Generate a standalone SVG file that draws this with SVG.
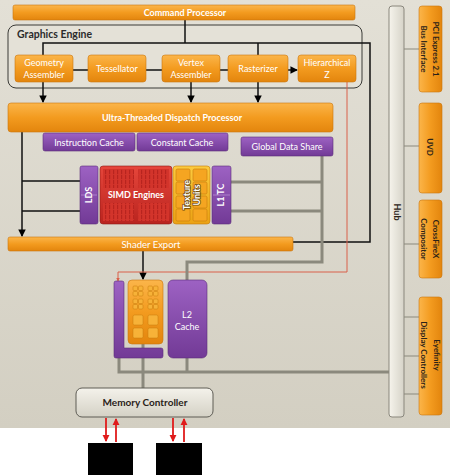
<svg xmlns="http://www.w3.org/2000/svg" width="450" height="475" viewBox="0 0 450 475">
<defs>
<linearGradient id="bgG" x1="0" y1="0" x2="0" y2="1"><stop offset="0" stop-color="#e3e0d6"/><stop offset="1" stop-color="#d3cfc2"/></linearGradient>
<linearGradient id="orG" x1="0" y1="0" x2="0" y2="1"><stop offset="0" stop-color="#fbb54a"/><stop offset="0.5" stop-color="#f39b1f"/><stop offset="1" stop-color="#e3850d"/></linearGradient>
<linearGradient id="orH" x1="0" y1="0" x2="1" y2="0"><stop offset="0" stop-color="#fbb54a"/><stop offset="0.5" stop-color="#f39b1f"/><stop offset="1" stop-color="#e3850d"/></linearGradient>
<linearGradient id="puG" x1="0" y1="0" x2="0" y2="1"><stop offset="0" stop-color="#9d62c3"/><stop offset="1" stop-color="#723a96"/></linearGradient>
<linearGradient id="reG" x1="0" y1="0" x2="0" y2="1"><stop offset="0" stop-color="#e6463b"/><stop offset="1" stop-color="#b9241f"/></linearGradient>
<linearGradient id="yeG" x1="0" y1="0" x2="0" y2="1"><stop offset="0" stop-color="#fcca3e"/><stop offset="1" stop-color="#eba214"/></linearGradient>
<linearGradient id="hubG" x1="0" y1="0" x2="1" y2="0"><stop offset="0" stop-color="#f6f4ec"/><stop offset="1" stop-color="#d6d3c8"/></linearGradient>
<linearGradient id="memG" x1="0" y1="0" x2="0" y2="1"><stop offset="0" stop-color="#f4f2eb"/><stop offset="1" stop-color="#d4d1c5"/></linearGradient>
<pattern id="simdP" width="4" height="5" patternUnits="userSpaceOnUse"><rect width="4" height="5" fill="#d3342b"/><rect x="1" y="0" width="1.2" height="4.2" fill="#b8241f"/></pattern>
<marker id="ab" viewBox="0 0 8 8" refX="7" refY="4" markerWidth="5" markerHeight="5" orient="auto"><path d="M0,0 L8,4 L0,8 z" fill="#000"/></marker>
<marker id="ar" viewBox="0 0 8 8" refX="7" refY="4" markerWidth="4" markerHeight="4" orient="auto"><path d="M0,0 L8,4 L0,8 z" fill="#e01b1b"/></marker>
<marker id="arr" viewBox="0 0 8 8" refX="7" refY="4" markerWidth="4" markerHeight="4" orient="auto"><path d="M0,0 L8,4 L0,8 z" fill="#d9604a"/></marker>
</defs>
<style>
text{font-family:Lato,"Liberation Sans",sans-serif;}
.or{fill:url(#orG);stroke:#c9760f;stroke-width:0.6;}
.orv{fill:url(#orH);stroke:#c9760f;stroke-width:0.6;}
.pu{fill:url(#puG);stroke:#5c2d7a;stroke-width:0.6;}
.wt{fill:#fff;font-size:9px;text-anchor:middle;}
.wb{fill:#fff;font-size:9px;font-weight:bold;text-anchor:middle;}
.dk{fill:#2a2218;font-size:8.5px;font-weight:bold;text-anchor:middle;}
.blk{stroke:#111;stroke-width:1.5;fill:none;}
.gry{stroke:#8b897d;stroke-width:3;fill:none;}
.thin{stroke:#8b897d;stroke-width:1;fill:none;}
.cell{fill:#f5a521;stroke:#c67a0c;stroke-width:0.6;}
</style>

<rect x="0" y="0" width="450" height="428" fill="url(#bgG)"/>

<g id="graphics-engine">
<rect x="8" y="25" width="354" height="63" rx="8" fill="#e4e1d7" stroke="#3a3a36" stroke-width="1"/>
<text x="17" y="38" style="font-size:10.5px;font-weight:bold;fill:#2b2b2b;">Graphics Engine</text>
</g>

<g id="connectors">
<polyline class="blk" points="185,20 185,43"/>
<polyline class="blk" points="43,55 43,43 370,43 370,242 293,242"/>
<line class="blk" x1="258" y1="43" x2="258" y2="55"/>
<line class="blk" x1="73" y1="70" x2="88" y2="70"/>
<line class="blk" x1="146" y1="70" x2="162" y2="70"/>
<line class="blk" x1="220" y1="70" x2="228" y2="70"/>
<line class="blk" x1="288" y1="70" x2="297" y2="70" marker-end="url(#ab)"/>
<line class="blk" x1="43" y1="82" x2="43" y2="102" marker-end="url(#ab)"/>
<line class="blk" x1="191" y1="82" x2="191" y2="102" marker-end="url(#ab)"/>
<line class="blk" x1="258" y1="82" x2="258" y2="102" marker-end="url(#ab)"/>
<line class="blk" x1="22" y1="132" x2="22" y2="236" marker-end="url(#ab)"/>
<line class="blk" x1="22" y1="181" x2="80" y2="181"/>
<line class="blk" x1="22" y1="211" x2="80" y2="211"/>
<line class="blk" x1="143" y1="251" x2="143" y2="279" marker-end="url(#ab)"/>
<polyline points="347,82 347,272 118,272 118,281" fill="none" stroke="#d9604a" stroke-width="1" marker-end="url(#arr)"/>
<polyline class="gry" points="322,156 322,262 187,262 187,281"/>
<line class="gry" x1="231" y1="182" x2="322" y2="182"/>
<line class="gry" x1="231" y1="211" x2="322" y2="211"/>
<polyline class="gry" points="119,358 119,372 389,372"/>
<line class="gry" x1="143" y1="344" x2="143" y2="388"/>
<line class="gry" x1="187" y1="358" x2="187" y2="372"/>
<line class="thin" x1="404" y1="49" x2="419" y2="49"/>
<line class="thin" x1="404" y1="146" x2="419" y2="146"/>
<line class="thin" x1="404" y1="244" x2="419" y2="244"/>
<line class="thin" x1="404" y1="317" x2="419" y2="317"/>
<line class="thin" x1="404" y1="356" x2="419" y2="356"/>
<line class="thin" x1="404" y1="394" x2="419" y2="394"/>
<line x1="106" y1="418" x2="106" y2="441" stroke="#e01b1b" stroke-width="1.8" marker-end="url(#ar)"/>
<line x1="116" y1="442" x2="116" y2="419" stroke="#e01b1b" stroke-width="1.8" marker-end="url(#ar)"/>
<line x1="173" y1="418" x2="173" y2="441" stroke="#e01b1b" stroke-width="1.8" marker-end="url(#ar)"/>
<line x1="184" y1="442" x2="184" y2="419" stroke="#e01b1b" stroke-width="1.8" marker-end="url(#ar)"/>
</g>

<g id="command-processor">
<rect class="or" x="13" y="5" width="342" height="15" rx="2"/>
<text class="wb" x="185" y="16">Command Processor</text>
</g>

<g id="geometry-assembler">
<rect class="or" x="15" y="55" width="58" height="27" rx="3"/>
<text class="wt" x="44" y="66">Geometry</text>
<text class="wt" x="44" y="78">Assembler</text>
</g>
<g id="tessellator">
<rect class="or" x="88" y="55" width="58" height="27" rx="3"/>
<text class="wt" x="117" y="72">Tessellator</text>
</g>
<g id="vertex-assembler">
<rect class="or" x="162" y="55" width="58" height="27" rx="3"/>
<text class="wt" x="191" y="66">Vertex</text>
<text class="wt" x="191" y="78">Assembler</text>
</g>
<g id="rasterizer">
<rect class="or" x="228" y="55" width="60" height="27" rx="3"/>
<text class="wt" x="258" y="72">Rasterizer</text>
</g>
<g id="hierarchical-z">
<rect class="or" x="298" y="55" width="58" height="27" rx="3"/>
<text class="wt" x="327" y="66">Hierarchical</text>
<text class="wt" x="327" y="78">Z</text>
</g>

<g id="dispatch-processor">
<rect class="or" x="8" y="103" width="325" height="29" rx="3"/>
<text class="wb" x="172" y="121">Ultra-Threaded Dispatch Processor</text>
</g>

<g id="instruction-cache">
<rect class="pu" x="43" y="133" width="92" height="18" rx="2"/>
<text class="wt" x="89" y="145.5">Instruction Cache</text>
</g>
<g id="constant-cache">
<rect class="pu" x="137" y="133" width="91" height="18" rx="2"/>
<text class="wt" x="182" y="145.5">Constant Cache</text>
</g>
<g id="global-data-share">
<rect class="pu" x="241" y="137" width="92" height="19" rx="2"/>
<text class="wt" x="287" y="150">Global Data Share</text>
</g>

<g id="lds">
<rect class="pu" x="80" y="166" width="18" height="58" rx="2"/>
<line x1="81" y1="195" x2="97" y2="195" stroke="#c9a3e0" stroke-width="0.6"/>
<text class="wb" transform="translate(92,195) rotate(-90)">LDS</text>
</g>
<g id="simd-engines">
<rect x="100" y="166" width="72" height="58" rx="3" fill="url(#reG)" stroke="#8f1a16" stroke-width="0.6"/>
<rect x="103" y="169" width="31" height="19" fill="url(#simdP)"/>
<rect x="138" y="169" width="31" height="19" fill="url(#simdP)"/>
<rect x="103" y="203" width="31" height="18" fill="url(#simdP)"/>
<rect x="138" y="203" width="31" height="18" fill="url(#simdP)"/>
<text class="wb" x="136" y="198">SIMD Engines</text>
</g>
<g id="texture-units">
<rect x="173" y="166" width="37" height="58" rx="3" fill="url(#yeG)" stroke="#c27a0a" stroke-width="0.6"/>
<rect class="cell" x="176" y="169" width="14" height="12" rx="1.5"/>
<rect class="cell" x="193" y="169" width="14" height="12" rx="1.5"/>
<rect class="cell" x="176" y="182" width="14" height="12" rx="1.5"/>
<rect class="cell" x="193" y="182" width="14" height="12" rx="1.5"/>
<rect class="cell" x="176" y="196" width="14" height="12" rx="1.5"/>
<rect class="cell" x="193" y="196" width="14" height="12" rx="1.5"/>
<rect class="cell" x="176" y="209" width="14" height="12" rx="1.5"/>
<rect class="cell" x="193" y="209" width="14" height="12" rx="1.5"/>
<text class="wb" transform="translate(190,195) rotate(-90)" style="stroke:#6a4a10;stroke-width:1.5;paint-order:stroke;">Texture</text>
<text class="wb" transform="translate(200,195) rotate(-90)" style="stroke:#6a4a10;stroke-width:1.5;paint-order:stroke;">Units</text>
</g>
<g id="l1-tc">
<rect class="pu" x="212" y="166" width="19" height="58" rx="2"/>
<line x1="213" y1="195" x2="230" y2="195" stroke="#c9a3e0" stroke-width="0.6"/>
<text class="wb" transform="translate(224,195) rotate(-90)">L1 TC</text>
</g>

<g id="shader-export">
<rect class="or" x="8" y="237" width="285" height="14" rx="2"/>
<text class="wt" x="151" y="247.5" style="font-size:9.5px;">Shader Export</text>
</g>

<g id="render-backends">
<path class="pu" d="M116,281 h6 a2,2 0 0 1 2,2 v65 h37 a2,2 0 0 1 2,2 v6 a2,2 0 0 1 -2,2 h-45 a2,2 0 0 1 -2,-2 v-73 a2,2 0 0 1 2,-2 z"/>
<rect x="128" y="280" width="35" height="64" rx="4" fill="url(#orG)" stroke="#c9760f" stroke-width="0.6"/>
<g fill="#f7b238" stroke="#c67a0c" stroke-width="0.5">
<rect x="133" y="286" width="4.5" height="4.5" rx="1"/><rect x="138.5" y="286" width="4.5" height="4.5" rx="1"/>
<rect x="133" y="291.5" width="4.5" height="4.5" rx="1"/><rect x="138.5" y="291.5" width="4.5" height="4.5" rx="1"/>
<rect x="148" y="286" width="4.5" height="4.5" rx="1"/><rect x="153.5" y="286" width="4.5" height="4.5" rx="1"/>
<rect x="148" y="291.5" width="4.5" height="4.5" rx="1"/><rect x="153.5" y="291.5" width="4.5" height="4.5" rx="1"/>
<rect x="133" y="299" width="4.5" height="4.5" rx="1"/><rect x="138.5" y="299" width="4.5" height="4.5" rx="1"/>
<rect x="133" y="304.5" width="4.5" height="4.5" rx="1"/><rect x="138.5" y="304.5" width="4.5" height="4.5" rx="1"/>
<rect x="148" y="299" width="4.5" height="4.5" rx="1"/><rect x="153.5" y="299" width="4.5" height="4.5" rx="1"/>
<rect x="148" y="304.5" width="4.5" height="4.5" rx="1"/><rect x="153.5" y="304.5" width="4.5" height="4.5" rx="1"/>
<rect x="133" y="315" width="10" height="10" rx="1.5"/><rect x="148" y="315" width="10" height="10" rx="1.5"/>
<rect x="133" y="328" width="10" height="10" rx="1.5"/><rect x="148" y="328" width="10" height="10" rx="1.5"/>
</g>
</g>

<g id="l2-cache">
<rect class="pu" x="168" y="280" width="39" height="78" rx="5"/>
<text class="wt" x="187" y="318">L2</text>
<text class="wt" x="187" y="330">Cache</text>
</g>

<g id="memory-controller">
<rect x="76" y="388" width="137" height="29" rx="6" fill="url(#memG)" stroke="#5e5c55" stroke-width="1"/>
<text class="dk" x="145" y="406" style="font-size:10px;">Memory Controller</text>
</g>

<g id="memory-1"><rect x="88" y="443" width="45" height="32" fill="#000"/></g>
<g id="memory-2"><rect x="156" y="443" width="46" height="32" fill="#000"/></g>

<g id="hub">
<rect x="389" y="6" width="15" height="411" rx="3" fill="url(#hubG)" stroke="#8a877d" stroke-width="1"/>
<text class="dk" transform="translate(394,212) rotate(90)" style="font-size:9px;">Hub</text>
</g>

<g id="pci-express">
<rect class="orv" x="419" y="6" width="23" height="86" rx="3"/>
<text class="dk" transform="translate(433,49) rotate(90)" style="font-size:8px;">PCI Express 2.1</text>
<text class="dk" transform="translate(421,49) rotate(90)" style="font-size:8px;">Bus Interface</text>
</g>
<g id="uvd">
<rect class="orv" x="419" y="103" width="23" height="90" rx="3"/>
<text class="dk" transform="translate(427,147) rotate(90)" style="font-size:8px;">UVD</text>
</g>
<g id="crossfirex">
<rect class="orv" x="419" y="200" width="23" height="78" rx="3"/>
<text class="dk" transform="translate(433,239) rotate(90)" style="font-size:8px;">CrossFireX</text>
<text class="dk" transform="translate(421,239) rotate(90)" style="font-size:8px;">Compositor</text>
</g>
<g id="eyefinity">
<rect class="orv" x="419" y="297" width="23" height="118" rx="3"/>
<text class="dk" transform="translate(434,355) rotate(90)" style="font-size:8px;">Eyefinity</text>
<text class="dk" transform="translate(421,355) rotate(90)" style="font-size:8px;">Display Controllers</text>
</g>
</svg>
